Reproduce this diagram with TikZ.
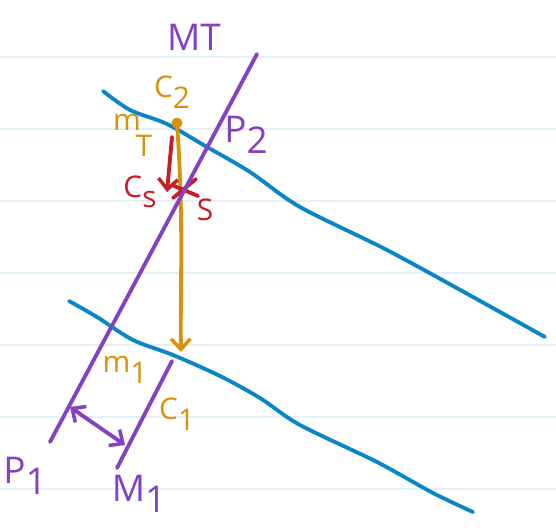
\documentclass[tikz,border=0pt]{standalone}
\usepackage{fontspec}
\setsansfont{Open Sans}
\usepackage{tikz}
\usetikzlibrary{arrows.meta, positioning}
\definecolor{spurple}{HTML}{8442C2}
\definecolor{sblue}{HTML}{0A86C8}
\definecolor{sorange}{HTML}{D9920B}
\definecolor{sred}{HTML}{C41F24}
\definecolor{srule}{HTML}{E2F0FA}
\newcommand{\lowr}[1]{\raisebox{-6pt}{#1}}
\tikzset{
  pen/.style={line width=2.2pt, line cap=round, line join=round},
  ruleline/.style={srule, line width=1.6pt},
  tag/.style={font=\sffamily\fontsize{17}{17}\selectfont, inner sep=1pt},
  bigtag/.style={font=\sffamily\fontsize{21}{21}\selectfont, inner sep=1pt},
  barb/.style={-{Straight Barb[length=6pt,width=11pt,line width=2pt]}},
  dbarb/.style={{Straight Barb[length=6pt,width=11pt,line width=2pt]}-{Straight Barb[length=6pt,width=11pt,line width=2pt]}},
}
\begin{document}
\begin{tikzpicture}[x=0.02cm, y=-0.02cm]
  \useasboundingbox (0,0) rectangle (556,529);
  %% ── ruled paper ──
  \foreach \yy in {57,129,201,273,345,417,489}
    \draw[ruleline] (0,\yy) -- (556,\yy);

  %% ── blue curves ──
  \draw[pen, sblue] plot[smooth, tension=0.5] coordinates {
    (103,91) (130,110) (167,124) (207,147) (250,172) (300,207)
    (387,250) (473,297) (545,337)};
  \draw[pen, sblue] plot[smooth, tension=0.5] coordinates {
    (69,301) (97,317) (133,340) (173,355) (220,376) (260,398)
    (300,425) (377,462) (433,493) (473,512)};

  %% ── orange: C2 to C1 ──
  \coordinate (c2) at (177,123);
  \coordinate (c1tip) at (181,352);
  \fill[sorange] (c2) circle (5.5);
  \draw[pen, sorange, barb] (c2) .. controls (184,220) and (180,290) .. (c1tip);

  %% ── red: Cs and S ──
  \coordinate (csfrom) at (172,137);
  \coordinate (cstip) at (167,192);
  \draw[pen, sred, barb] (csfrom) -- (cstip);
  \draw[pen, sred] (172,185) -- (198,196);
  \draw[pen, sred] (196,179) -- (173,198);

  %% ── purple lines ──
  \coordinate (mtTop) at (257,54);
  \coordinate (mtBot) at (50,442);
  \coordinate (m1Top) at (172,361);
  \coordinate (m1Bot) at (117,468);
  \coordinate (p1Foot) at (70,407);
  \coordinate (m1Foot) at (125,445);
  \draw[pen, spurple] (mtTop) -- (mtBot);
  \draw[pen, spurple] (m1Top) -- (m1Bot);
  \draw[pen, spurple, dbarb] (p1Foot) -- (m1Foot);

  %% ── labels ──
  \node[bigtag, spurple] (lblMT) at (194,37) {MT};
  \node[tag, sorange] (lblC2) at (172,92) {C\lowr{2}};
  \node[tag, sorange, anchor=base west] (lblmT) at (111,130) {m\kern-3pt\raisebox{-15pt}{T}};
  \node[bigtag, spurple] (lblP2) at (246,135) {P\lowr{2}};
  \node[tag, sred] (lblCs) at (140,192) {C\lowr{s}};
  \node[tag, sred] (lblS) at (205,210) {S};
  \node[tag, sorange] (lblm1) at (125,370) {m\lowr{1}};
  \node[tag, sorange] (lblC1) at (177,414) {C\lowr{1}};
  \node[bigtag, spurple] (lblP1) at (25,476) {P\lowr{1}};
  \node[bigtag, spurple] (lblM1) at (139,494) {M\lowr{1}};
\end{tikzpicture}
\end{document}
